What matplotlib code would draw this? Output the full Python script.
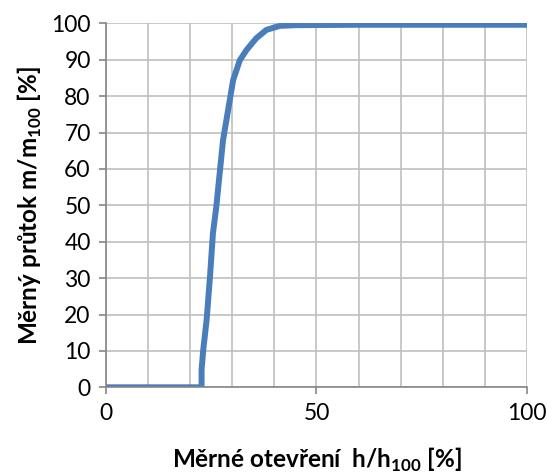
import numpy as np
import matplotlib.pyplot as plt

plt.rcParams['font.family'] = ['Lato', 'DejaVu Sans']
plt.rcParams['mathtext.fontset'] = 'custom'
plt.rcParams['mathtext.rm'] = 'Lato'
plt.rcParams['mathtext.bf'] = 'Lato:bold'

# curve (opening % vs flow %)
opening = [0, 22.7, 22.7, 23.1, 23.9, 24.7, 25.4, 26.2, 27.0, 27.8, 28.6,
           29.4, 30.2, 31.8, 33.4, 35.7, 38.1, 41.3, 45.2, 60, 80, 100]
flow = [0, 0, 4.8, 10.3, 18.5, 30.4, 42.3, 49.6, 58.8, 67.9, 73.4,
        78.9, 84.4, 89.9, 92.7, 95.9, 98.2, 99.3, 99.5, 99.6, 99.6, 99.6]

x_ticks = [0, 50, 100]
y_ticks = list(range(0, 101, 10))

fig = plt.figure(figsize=(5.47, 4.74), dpi=100)
ax = fig.add_axes([0.1938, 0.1829, 0.7696, 0.7679])

ax.plot(opening, flow, color='#4A7EBB', lw=4.3, solid_joinstyle='round')

ax.set_xlim(0, 100)
ax.set_ylim(0, 100)
ax.set_xticks(x_ticks)
ax.set_xticks(range(0, 101, 10), minor=True)
ax.set_yticks(y_ticks)

ax.grid(True, which='both', color='#BFBFBF', lw=1.2)
ax.set_axisbelow(True)
for s in ['top', 'right']:
    ax.spines[s].set_visible(False)
for s in ['left', 'bottom']:
    ax.spines[s].set_color('#868686')
    ax.spines[s].set_linewidth(1.2)

ax.tick_params(axis='both', which='major', length=5, color='#868686',
               width=1.2, labelsize=16.5, pad=6)
ax.tick_params(axis='x', which='minor', length=0)

ax.set_xlabel(r'Měrné otevření  h/h$_{\mathbf{100}}$ [%]', fontsize=17.5,
              fontweight='bold', labelpad=16)
ax.set_ylabel(r'Měrný průtok m/m$_{\mathbf{100}}$ [%]', fontsize=17.5,
              fontweight='bold', labelpad=5)

fig.savefig('out.png', dpi=100)
